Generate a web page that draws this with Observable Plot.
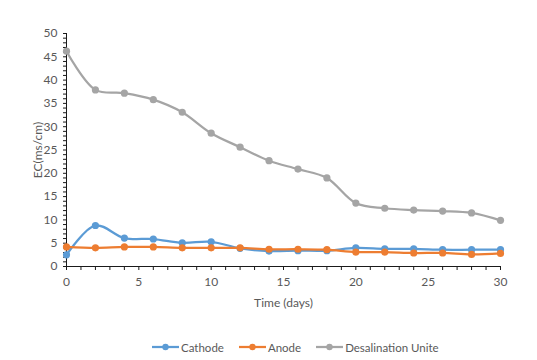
<!DOCTYPE html>
<html><head><meta charset="utf-8">
<script src="https://cdn.jsdelivr.net/npm/d3@7"></script>
<script src="https://cdn.jsdelivr.net/npm/@observablehq/plot@0.6"></script>
<style>
body{margin:0;background:#fff;font-family:Lato,"Open Sans",sans-serif;width:537px;height:360px;overflow:hidden;}
#legend{display:flex;align-items:center;padding-left:152px;margin-top:9px;height:16px;font-size:11.5px;color:#595959;}
#legend .item{display:flex;align-items:center;margin-right:15px;}
#legend svg{margin-right:2px;}
</style></head><body>
<div id="chart"></div>
<div id="legend"></div>
<script>
const days = [0,2,4,6,8,10,12,14,16,18,20,22,24,26,28,30];
const cathode = [2.5,8.8,6.1,5.9,5.1,5.3,3.9,3.3,3.4,3.4,4.0,3.8,3.8,3.6,3.6,3.6];
const anode = [4.2,4.0,4.2,4.2,4.0,4.0,4.0,3.7,3.7,3.6,3.1,3.1,2.9,2.9,2.6,2.8];
const desal = [46.2,37.9,37.2,35.8,33.1,28.6,25.6,22.7,20.9,19.0,13.6,12.5,12.1,11.9,11.5,9.9];
const seriesNames = ["Cathode","Anode","Desalination Unite"];
const seriesColors = ["#5B9BD5","#ED7D31","#A5A5A5"];
const xTicks = [0,5,10,15,20,25,30];
const yTicks = [0,5,10,15,20,25,30,35,40,45,50];
const xMinor = d3.range(0,31,1);
const yMinor = d3.range(0,51,1);

const values = [cathode, anode, desal];
const seriesMarks = [];
values.forEach((vals, i) => {
  const rows = days.map((d, j) => ({day: d, value: vals[j], series: seriesNames[i]}));
  seriesMarks.push(Plot.line(rows, {x: "day", y: "value", stroke: seriesColors[i], strokeWidth: 2.25, curve: "catmull-rom"}));
  seriesMarks.push(Plot.dot(rows, {x: "day", y: "value", fill: seriesColors[i], r: 3.6}));
});

const axisColor = "#1a1a1a";
const chart = Plot.plot({
  width: 537, height: 330,
  marginTop: 33, marginBottom: 64, marginLeft: 66, marginRight: 37,
  style: {fontFamily: "Lato, 'Open Sans', sans-serif", fontSize: "12px", color: "#595959", background: "#fff"},
  x: {domain: [0, 30]},
  y: {domain: [0, 50]},
  marks: [
    Plot.axisX({ticks: xMinor, tickSize: 4, tickFormat: () => "", label: null, stroke: axisColor}),
    Plot.axisX({ticks: xTicks, tickSize: 0, tickPadding: 11, label: "Time (days)", labelAnchor: "center", labelOffset: 40, labelArrow: "none", fill: "#595959"}),
    Plot.axisY({ticks: yMinor, tickSize: 3, tickFormat: () => "", label: null, stroke: axisColor}),
    Plot.axisY({ticks: yTicks, tickSize: 0, tickPadding: 9, label: "EC(ms/cm)", labelAnchor: "center", labelOffset: 33, labelArrow: "none", fill: "#595959"}),
    Plot.ruleY([0], {stroke: axisColor}),
    Plot.ruleX([0], {stroke: axisColor}),
    ...seriesMarks
  ]
});
document.getElementById("chart").appendChild(chart);

const legend = document.getElementById("legend");
seriesNames.forEach((name, i) => {
  const item = document.createElement("div");
  item.className = "item";
  item.innerHTML = `<svg width="27" height="10"><line x1="0" x2="27" y1="5" y2="5" stroke="${seriesColors[i]}" stroke-width="2.25"/><circle cx="13.5" cy="5" r="3.2" fill="${seriesColors[i]}"/></svg><span>${name}</span>`;
  legend.appendChild(item);
});
</script>
</body></html>
